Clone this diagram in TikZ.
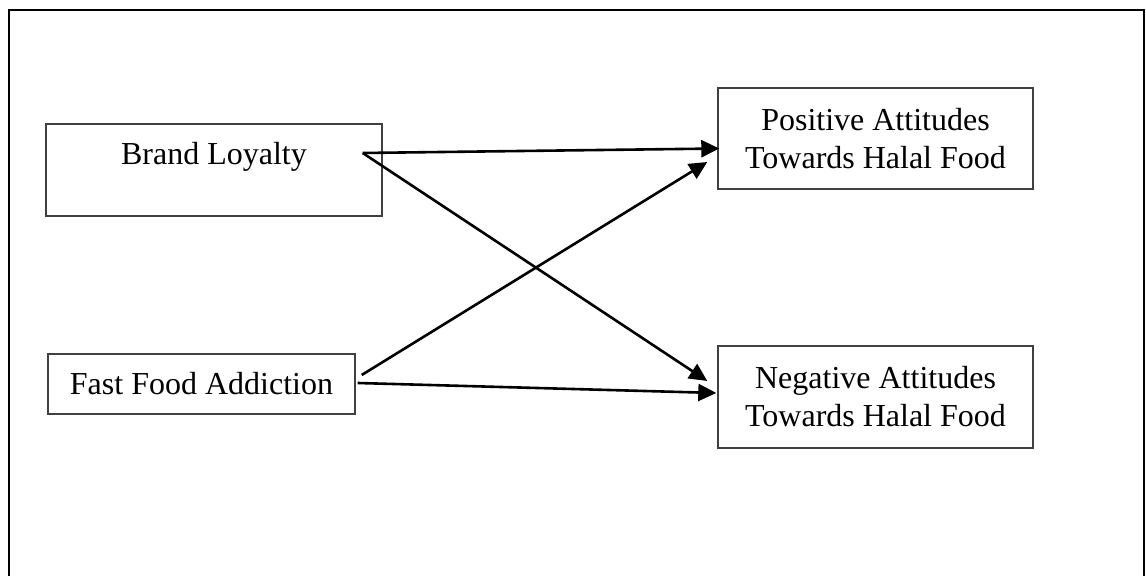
\documentclass[tikz,border=0pt]{standalone}
\usepackage{fontspec}
\setmainfont{Liberation Serif}
\usetikzlibrary{arrows.meta}

\begin{document}
\begin{tikzpicture}[x=0.5pt, y=-0.5pt,
		box/.style={draw=black!75, line width=0.7pt, rectangle, align=center, inner sep=0pt, font=\fontsize{16}{19}\selectfont},
		link/.style={line width=1.3pt, -{Triangle[length=9pt,width=8.5pt]}}]
		\useasboundingbox (0,0) rectangle (1146,576);
		\draw[line width=1.4pt] (9,590) |- (1144,10) -- (1144,590);
		\node[box, minimum width=168pt, minimum height=46pt, text height=11.5pt, text depth=16.5pt] (brand) at (214,170) {Brand Loyalty};
		\node[box, minimum width=153.5pt, minimum height=30pt] (fast) at (201.5,384) {Fast Food Addiction};
		\node[box, minimum width=157.5pt, minimum height=50.5pt] (pos) at (875.5,138.5) {Positive Attitudes\\Towards Halal Food};
		\node[box, minimum width=157.5pt, minimum height=51pt] (neg) at (875.5,397) {Negative Attitudes\\Towards Halal Food};
		\draw[link] ([shift={(-20,-17)}]brand.east) -- ([shift={(2,10)}]pos.west);
		\draw[link] ([shift={(-20,-17)}]brand.east) -- ([shift={(-10,-16)}]neg.west);
		\draw[link] ([shift={(6,-9)}]fast.east) -- ([shift={(-10,23.5)}]pos.west);
		\draw[link] ([shift={(2,-1)}]fast.east) -- ([shift={(-1,-4)}]neg.west);
\end{tikzpicture}
\end{document}
